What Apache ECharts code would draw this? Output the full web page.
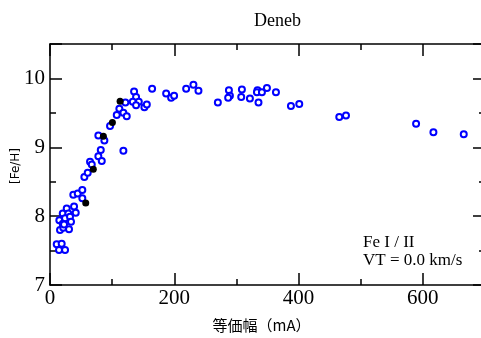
<!DOCTYPE html>
<html><head><meta charset="utf-8">
<script src="https://cdn.jsdelivr.net/npm/echarts@6/dist/echarts.min.js"></script>
<style>html,body{margin:0;padding:0;overflow:hidden;background:#fff}#c{width:485px;height:338px}</style>
</head><body><div id="c"></div>
<script>
const titleText = 'Deneb';
const xName = '等価幅（mA）';
const yName = '[Fe/H]';
const noteLines = ['Fe I / II', 'VT = 0.0 km/s'];

const blueX = [10.8,18.8,14.5,24.2,16.1,15.0,20.5,20.5,21.4,26.9,29.5,24.2,32.2,33.8,30.6,22.6,38.7,41.4,37.5,44.6,52.0,52.0,55.3,60.7,64.4,67.2,77.8,81.7,83.3,77.8,87.5,96.6,107.4,111.6,118.1,123.5,121.3,118.1,135.3,138.5,133.2,142.9,138.5,151.9,155.8,164.3,186.9,194.9,199.7,219.1,230.8,238.9,270.1,287.9,289.5,286.7,308.8,307.7,321.7,333.9,333.0,341.0,349.1,335.5,363.6,387.7,401.1,465.5,476.3,589.1,617.0,665.8];
const blueY = [7.59,7.60,7.51,7.51,7.80,7.94,8.04,7.89,7.83,8.11,8.04,7.97,7.99,7.92,7.81,7.88,8.14,8.05,8.31,8.33,8.38,8.26,8.57,8.63,8.79,8.75,8.87,8.96,8.80,9.17,9.10,9.31,9.47,9.56,9.50,9.45,9.65,8.95,9.81,9.73,9.66,9.66,9.61,9.58,9.62,9.85,9.78,9.72,9.75,9.85,9.91,9.82,9.65,9.83,9.75,9.72,9.84,9.73,9.71,9.83,9.80,9.80,9.86,9.65,9.80,9.60,9.63,9.44,9.46,9.34,9.22,9.19];
const blackX = [57.5,69.7,85.9,100.4,112.8];
const blackY = [8.19,8.68,9.16,9.36,9.67];

const xMin = 0, xMax = 700, xStep = 200;
const yMin = 7, yMax = 10.5, yStep = 1;

const zip = (a,b) => a.map((v,i)=>[v,b[i]]);
const serif = 'Liberation Serif';
const axisCommon = {
  axisLine:{show:true,onZero:false,lineStyle:{color:'#000',width:1.5}},
  axisTick:{show:true,inside:true,length:12,lineStyle:{color:'#000',width:1.5}},
  minorTick:{show:true,splitNumber:2,length:6,lineStyle:{color:'#000',width:1.5}},
  splitLine:{show:false}
};
const chart = echarts.init(document.getElementById('c'));
chart.setOption({
  animation:false,
  backgroundColor:'#fff',
  grid:{left:50,top:44,right:0,bottom:53,containLabel:false,outerBoundsMode:'none'},
  xAxis:[
    Object.assign({type:'value',position:'bottom',min:xMin,max:xMax,interval:xStep,
      name:xName,nameLocation:'middle',nameGap:33,
      nameTextStyle:{fontFamily:'Noto Sans CJK JP',fontSize:15,color:'#000',padding:[0,12,0,0]},
      axisLabel:{fontFamily:serif,fontSize:21,color:'#000',margin:3,
        formatter:v=> v>=xMax? '' : String(v)}},axisCommon),
    Object.assign({type:'value',position:'top',min:xMin,max:xMax,interval:xStep,axisLabel:{show:false}},axisCommon)
  ],
  yAxis:[
    Object.assign({type:'value',position:'left',min:yMin,max:yMax,interval:yStep,
      axisLabel:{fontFamily:serif,fontSize:21,color:'#000',margin:5,
        formatter:v=> Number.isInteger(v)? String(v) : ''}},axisCommon),
    Object.assign({type:'value',position:'right',min:yMin,max:yMax,interval:yStep,axisLabel:{show:false}},axisCommon)
  ],
  title:{text:titleText,left:249,top:7,textStyle:{fontFamily:serif,fontSize:18,fontWeight:'normal',color:'#000'}},
  graphic:[
    {type:'text',x:16,y:166,rotation:Math.PI/2,
      style:{text:yName,font:'12px "DejaVu Sans"',fill:'#000',align:'center',verticalAlign:'middle'}},
    {type:'text',left:363,top:234,style:{text:noteLines.join('\n'),font:'17px "Liberation Serif"',fill:'#000',lineHeight:18}}
  ],
  series:[
    {type:'scatter',data:zip(blueX,blueY),symbol:'emptyCircle',symbolSize:6,
      itemStyle:{color:'#0000ff',borderColor:'#0000ff',borderWidth:1.6,opacity:1}},
    {type:'scatter',data:zip(blackX,blackY),symbol:'circle',symbolSize:7,
      itemStyle:{color:'#000',opacity:1}}
  ]
});
</script></body></html>
